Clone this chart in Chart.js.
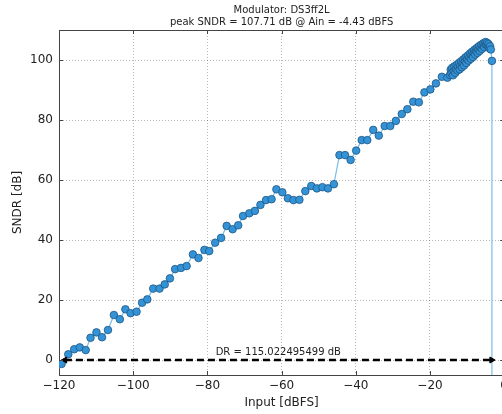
<!DOCTYPE html>
<html>
<head>
<meta charset="utf-8">
<script src="https://cdn.jsdelivr.net/npm/chart.js@4/dist/chart.umd.min.js"></script>
<style>
  html, body { margin: 0; padding: 0; background: #fff; overflow: hidden; }
  #wrap { position: relative; width: 512px; height: 414px; }
</style>
</head>
<body>
<div id="wrap"><canvas id="c"></canvas></div>
<script>
// Input amplitude sweep (dBFS) and measured SNDR (dB)
const inputDbfs = [
  -120.9, -119.3, -117.5, -115.9, -114.4, -112.8, -111.5, -109.9, -108.4, -106.8,
  -105.2, -103.6, -102.1, -100.7, -99.1, -97.6, -96.2, -94.6, -92.9, -91.5,
  -90.1, -88.7, -87.1, -85.6, -83.9, -82.4, -80.8, -79.5, -77.9, -76.3,
  -74.8, -73.2, -71.7, -70.4, -68.7, -67.2, -65.7, -64.2, -62.7, -61.4,
  -59.8, -58.3, -56.8, -55.2, -53.6, -52.0, -50.5, -49.0, -47.5, -45.9,
  -44.4, -42.9, -41.4, -39.9, -38.4, -36.9, -35.3, -33.8, -32.2, -30.7,
  -29.2, -27.6, -26.1, -24.5, -23.0, -21.5, -19.9, -18.4, -16.8, -15.3,
  -14.6, -14.4, -14.2, -14.0, -13.8, -13.6, -13.4, -13.2, -13.0, -12.8,
  -12.6, -12.4, -12.2, -12.0, -11.8, -11.6, -11.4, -11.2, -11.0, -10.8,
  -10.6, -10.4, -10.2, -10.0, -9.8, -9.6, -9.4, -9.2, -9.0, -8.8,
  -8.6, -8.4, -8.2, -8.0, -7.8, -7.6, -7.4, -7.2, -7.0, -6.8,
  -6.6, -6.4, -6.2, -6.0, -5.8, -5.6, -5.4, -5.2, -5.0, -4.8,
  -4.6, -4.4, -4.2, -4.0, -3.8, -3.6, -3.3, -3.3
];
const sndrDb = [
  -4.3, -1.3, 1.9, 3.6, 4.2, 3.3, 7.4, 9.2, 7.6, 10.0,
  15.0, 13.6, 16.9, 15.6, 16.1, 19.1, 20.2, 23.8, 23.8, 25.2,
  27.2, 30.3, 30.7, 31.3, 35.2, 34.0, 36.7, 36.3, 39.1, 40.7,
  44.7, 43.6, 44.9, 48.0, 48.9, 49.7, 51.7, 53.3, 53.6, 56.9,
  55.9, 53.9, 53.3, 53.4, 56.3, 58.0, 57.2, 57.6, 57.2, 58.6,
  68.3, 68.3, 66.7, 69.8, 73.3, 73.3, 76.7, 74.8, 78.0, 78.0,
  79.7, 82.0, 83.6, 86.1, 85.9, 89.2, 90.2, 92.2, 94.4, 94.1,
  95.0, 96.8, 95.6, 97.4, 94.9, 96.3, 97.9, 95.7, 97.0, 98.4,
  96.5, 97.8, 99.0, 96.9, 98.3, 99.6, 97.6, 99.0, 100.2, 98.2,
  99.6, 100.9, 99.0, 100.3, 101.5, 99.8, 101.0, 102.2, 100.4, 101.7,
  102.8, 101.0, 102.4, 103.4, 101.8, 103.0, 104.0, 102.4, 103.6, 104.6,
  103.0, 104.2, 105.1, 103.7, 104.8, 105.6, 104.3, 105.4, 106.0, 105.0,
  105.7, 104.6, 105.3, 103.9, 104.6, 103.5, 99.7, -40
];

// Dynamic range arrow along SNDR = 0
const drStart = -118.4;
const drValue = 115.022495499;
const drLevel = 0;

// Axis ticks and labels
const xTickValues = [-120, -100, -80, -60, -40, -20, 0];
const yTickValues = [0, 20, 40, 60, 80, 100];
const titleLines = ['Modulator: DS3ff2L', 'peak SNDR = 107.71 dB @ Ain = -4.43 dBFS'];
const xTitle = 'Input [dBFS]';
const yTitle = 'SNDR [dB]';

const FONT = "'DejaVu Sans', 'Liberation Sans', sans-serif";
const minusSign = v => String(v).replace('-', '\u2212');

const sweep = inputDbfs.map((x, i) => ({ x, y: sndrDb[i] }));
const drLine = [
  { x: drStart, y: drLevel },
  { x: drStart + drValue, y: drLevel }
];

// Frame, inward tick marks and DR annotation
const framePlugin = {
  id: 'frame',
  afterDatasetsDraw(chart) {
    const { ctx, chartArea: a, scales } = chart;
    ctx.save();
    ctx.strokeStyle = '#444';
    ctx.lineWidth = 1;
    ctx.beginPath();
    ctx.moveTo(a.left, a.top + 0.5);
    ctx.lineTo(a.right, a.top + 0.5);
    ctx.stroke();
    ctx.beginPath();
    xTickValues.forEach(v => {
      const px = Math.round(scales.x.getPixelForValue(v)) + 0.5;
      ctx.moveTo(px, a.bottom); ctx.lineTo(px, a.bottom - 4);
      ctx.moveTo(px, a.top); ctx.lineTo(px, a.top + 4);
    });
    yTickValues.forEach(v => {
      const py = Math.round(scales.y.getPixelForValue(v)) + 0.5;
      ctx.moveTo(a.left, py); ctx.lineTo(a.left + 4, py);
      ctx.moveTo(a.right, py); ctx.lineTo(a.right - 4, py);
    });
    ctx.stroke();

    const mx = (scales.x.getPixelForValue(drLine[0].x) + scales.x.getPixelForValue(drLine[1].x)) / 2;
    const my = scales.y.getPixelForValue(drLevel);
    ctx.fillStyle = '#222';
    ctx.font = '10px ' + FONT;
    ctx.textAlign = 'center';
    ctx.textBaseline = 'bottom';
    ctx.fillText('DR = ' + drValue + ' dB', mx, my - 3);
    ctx.restore();
  }
};

new Chart(document.getElementById('c'), {
  type: 'line',
  data: {
    datasets: [
      {
        data: sweep,
        borderColor: '#78bde8',
        borderWidth: 1.2,
        backgroundColor: '#3493d6',
        pointBackgroundColor: '#3493d6',
        pointBorderColor: '#1c5584',
        pointBorderWidth: 0.8,
        pointRadius: 3.8,
        pointHoverRadius: 3.8,
        tension: 0,
        clip: 0,
        order: 2
      },
      {
        data: drLine,
        borderColor: '#000',
        borderWidth: 2.6,
        borderDash: [7, 4],
        pointStyle: 'triangle',
        pointRotation: [-90, 90],
        pointRadius: 3.5,
        pointBackgroundColor: '#000',
        pointBorderColor: '#000',
        pointBorderWidth: 1,
        clip: false,
        order: 1
      }
    ]
  },
  options: {
    responsive: true,
    maintainAspectRatio: false,
    animation: false,
    events: [],
    layout: { padding: { left: 0, right: 6, top: 0, bottom: 0 } },
    plugins: {
      legend: { display: false },
      tooltip: { enabled: false },
      title: {
        display: true,
        fullSize: false,
        text: titleLines,
        color: '#222',
        font: { family: FONT, size: 10, weight: 'normal', lineHeight: 1.2 },
        padding: { top: 4, bottom: 2 }
      }
    },
    scales: {
      x: {
        type: 'linear',
        min: -120,
        max: 0,
        afterBuildTicks: s => { s.ticks = xTickValues.map(v => ({ value: v })); },
        afterFit: s => { s.height = 39; },
        ticks: {
          color: '#222',
          padding: 4,
          maxRotation: 0,
          font: { family: FONT, size: 12 },
          callback: v => minusSign(v)
        },
        grid: {
          color: 'rgba(0,0,0,0.28)',
          lineWidth: 1,
          drawTicks: false
        },
        border: { display: true, color: '#444', width: 1, dash: [1, 2] },
        title: {
          display: true,
          text: xTitle,
          color: '#222',
          font: { family: FONT, size: 12 },
          padding: { top: 0, bottom: 4 }
        }
      },
      y: {
        type: 'linear',
        min: -5,
        max: 110,
        afterBuildTicks: s => { s.ticks = yTickValues.map(v => ({ value: v })); },
        afterFit: s => { s.width = 59; },
        ticks: {
          color: '#222',
          padding: 6,
          font: { family: FONT, size: 12 },
          callback: v => minusSign(v)
        },
        grid: {
          color: 'rgba(0,0,0,0.28)',
          lineWidth: 1,
          drawTicks: false
        },
        border: { display: true, color: '#444', width: 1, dash: [1, 2] },
        title: {
          display: true,
          text: yTitle,
          color: '#222',
          font: { family: FONT, size: 12 },
          padding: { top: 11, bottom: 0 }
        }
      }
    }
  },
  plugins: [framePlugin]
});
</script>
</body>
</html>
